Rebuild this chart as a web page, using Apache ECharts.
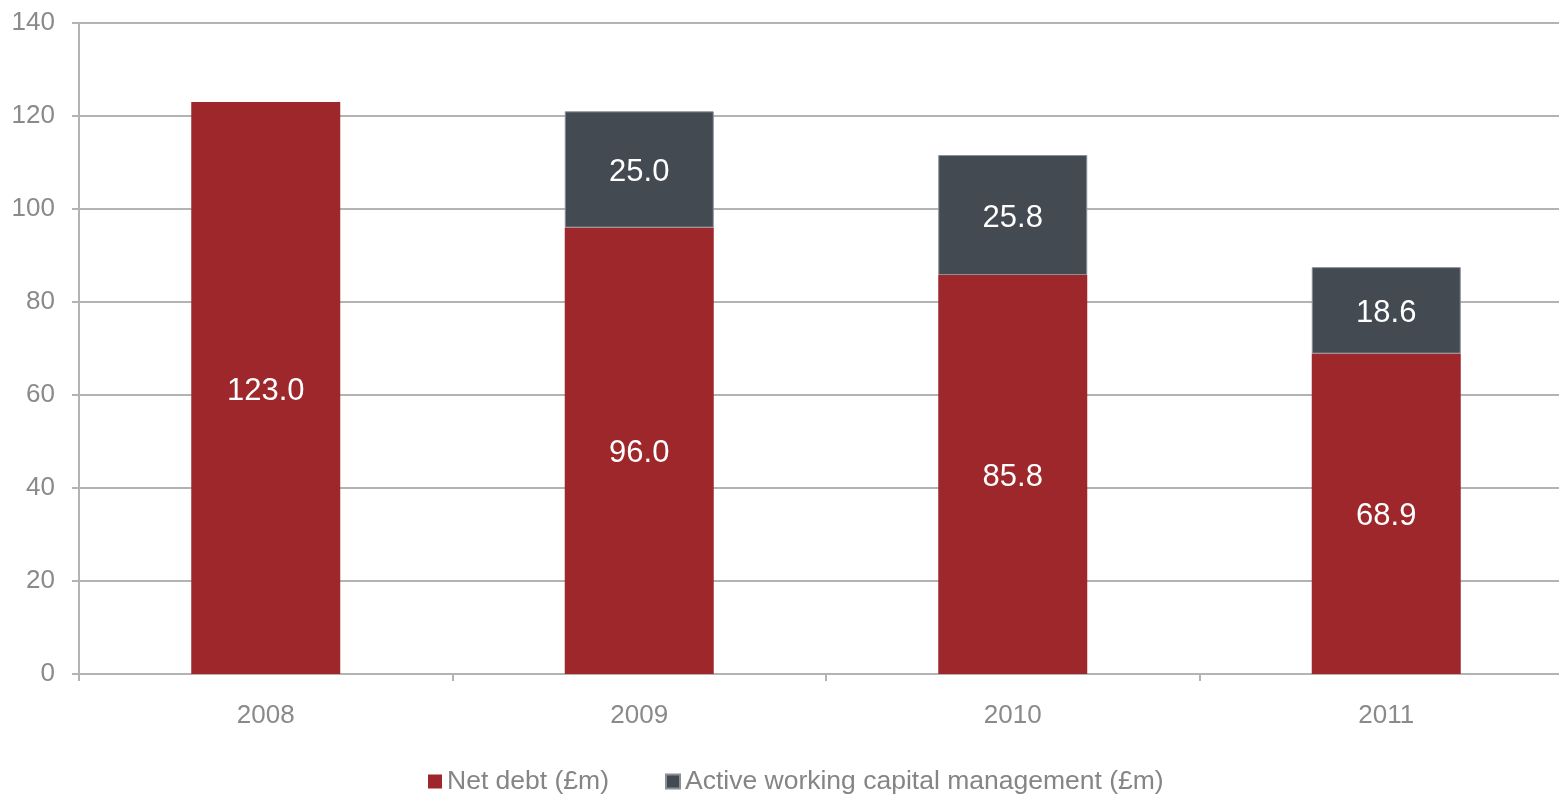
<!DOCTYPE html>
<html>
<head>
<meta charset="utf-8">
<script src="https://cdn.jsdelivr.net/npm/echarts@6/dist/echarts.min.js"></script>
<style>html,body{margin:0;padding:0;background:#fff;overflow:hidden;width:1559px;height:796px}#c{width:1573px;height:796px}</style>
</head>
<body>
<div id="c"></div>
<script>
const categories = ['2008', '2009', '2010', '2011'];
const netDebt = [123.0, 96.0, 85.8, 68.9];
const activeWC = [null, 25.0, 25.8, 18.6];
const seriesNames = ['Net debt (£m)', 'Active working capital management (£m)'];

const chart = echarts.init(document.getElementById('c'));
const font = '"Liberation Sans", Arial, sans-serif';
const axisGray = '#b3b3b3';
const labelStyle = {
  show: true, position: 'inside', offset: [0, 3], color: '#ffffff', fontSize: 31, fontFamily: font,
  formatter: p => (p.value == null ? '' : Number(p.value).toFixed(1))
};
chart.setOption({
  animation: false,
  textStyle: { fontFamily: font },
  grid: { left: 79, right: 0, top: 23, bottom: 122, containLabel: false },
  legend: {
    bottom: -4, left: 423, itemWidth: 14, itemHeight: 14, itemGap: 56,
    icon: 'rect',
    textStyle: { color: '#858585', fontSize: 26.5, fontFamily: font },
    data: seriesNames
  },
  xAxis: {
    type: 'category', data: categories, boundaryGap: true,
    axisLine: { lineStyle: { color: axisGray, width: 2 } },
    axisTick: { show: true, alignWithLabel: false, length: 7, lineStyle: { color: axisGray, width: 2 } },
    axisLabel: { color: '#8a8a8a', fontSize: 26, margin: 29, fontFamily: font }
  },
  yAxis: {
    type: 'value', min: 0, max: 140, interval: 20,
    axisLine: { show: true, lineStyle: { color: axisGray, width: 2 } },
    axisTick: { show: true, length: 7, lineStyle: { color: axisGray, width: 2 } },
    axisLabel: { color: '#8a8a8a', fontSize: 26, margin: 24, fontFamily: font },
    splitLine: { show: true, lineStyle: { color: axisGray, width: 2 } }
  },
  series: [
    { name: seriesNames[0], type: 'bar', stack: 'a', data: netDebt, barWidth: 149,
      itemStyle: { color: '#9e272b' }, label: labelStyle },
    { name: seriesNames[1], type: 'bar', stack: 'a', data: activeWC, barWidth: 149,
      itemStyle: { color: '#434a52', borderColor: '#8a9096', borderWidth: 1 }, label: labelStyle }
  ]
});
</script>
</body>
</html>
